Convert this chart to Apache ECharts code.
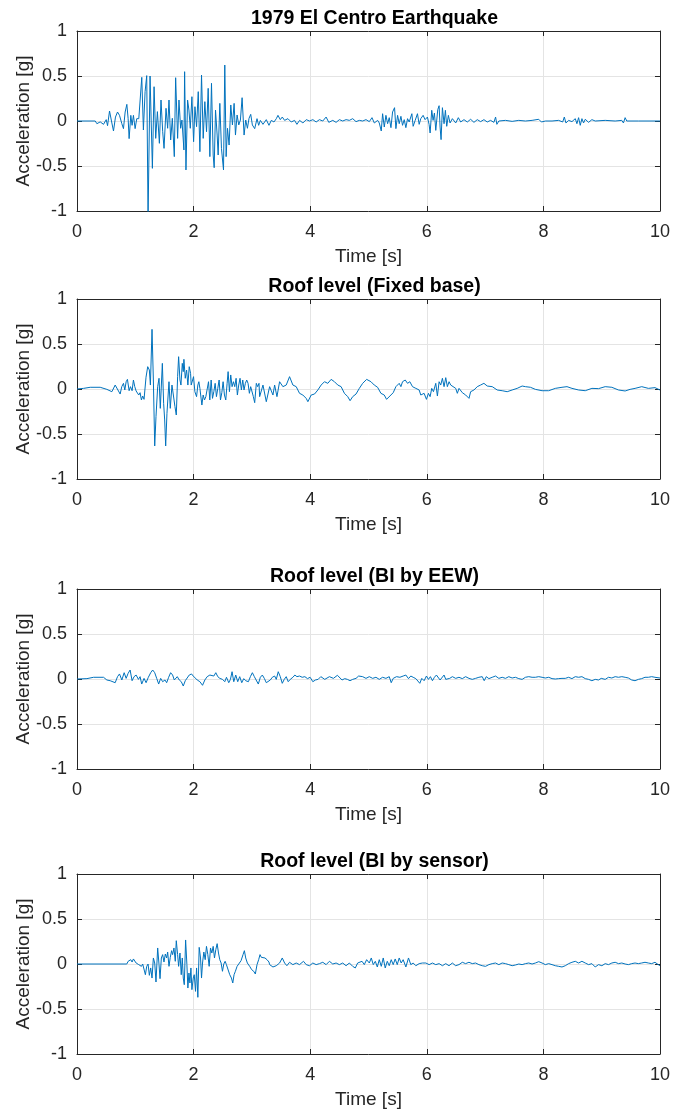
<!DOCTYPE html>
<html>
<head>
<meta charset="utf-8">
<script src="https://cdn.jsdelivr.net/npm/echarts@6/dist/echarts.min.js"></script>
<style>
html, body { margin: 0; padding: 0; background: #fff; }
#main { width: 673px; height: 1113px; }
</style>
</head>
<body>
<div id="main"></div>
<script>
// panel titles
var titles = ['1979 El Centro Earthquake', 'Roof level (Fixed base)', 'Roof level (BI by EEW)', 'Roof level (BI by sensor)'];
var xName = 'Time [s]';
var yName = 'Acceleration [g]';
var xTicks = [0, 10, 2];      // min, max, step
var yTicks = [-1, 1, 0.5];

// [time s, acceleration g]
var elCentro = [
  [0,0],[0.313,0],[0.341,-0.03],[0.398,-0.01],[0.455,-0.037],[0.501,0.015],[0.524,-0.052],[0.558,0.111],[0.598,-0.022],[0.626,-0.111],
  [0.66,0.044],[0.695,0.1],[0.729,0.063],[0.769,-0.03],[0.797,-0.085],[0.826,0.1],[0.855,0.185],[0.877,0.026],[0.894,-0.196],[0.923,0.063],
  [0.945,-0.048],[0.968,0.063],[0.997,-0.085],[1.025,0.026],[1.06,0.026],[1.111,0.485],[1.139,-0.1],[1.168,0.326],[1.196,0.504],[1.219,-1.08],
  [1.253,0.5],[1.293,-0.526],[1.322,0.381],[1.35,-0.193],[1.379,0.104],[1.413,-0.248],[1.441,0.233],[1.47,-0.119],[1.493,-0.304],[1.527,0.141],
  [1.555,-0.081],[1.578,0.233],[1.607,-0.211],[1.635,0.03],[1.669,-0.396],[1.692,0.481],[1.726,-0.193],[1.749,0.233],[1.778,-0.081],[1.8,0.011],
  [1.834,-0.322],[1.846,0.548],[1.869,-0.544],[1.897,0.233],[1.92,0.122],[1.943,-0.081],[1.971,0.27],[2.0,-0.23],[2.023,0.159],[2.051,-0.063],
  [2.08,0.326],[2.108,-0.341],[2.136,0.511],[2.165,-0.193],[2.193,0.215],[2.222,-0.119],[2.25,0.363],[2.279,-0.396],[2.307,0.419],[2.336,-0.378],
  [2.353,-0.519],[2.376,0.122],[2.404,-0.156],[2.421,-0.378],[2.45,0.196],[2.478,-0.304],[2.513,-0.544],[2.535,0.622],[2.558,-0.396],[2.581,-0.081],
  [2.609,-0.267],[2.638,0.178],[2.666,-0.044],[2.695,0.196],[2.718,-0.156],[2.746,0.067],[2.775,-0.044],[2.803,0.011],[2.832,0.259],[2.866,-0.156],
  [2.894,0.011],[2.923,-0.081],[2.951,0.03],[2.98,0.074],[3.008,-0.044],[3.048,-0.085],[3.088,0.026],[3.116,-0.048],[3.145,0.007],[3.19,-0.037],
  [3.247,0.015],[3.293,-0.048],[3.333,0.007],[3.379,-0.011],[3.419,0.026],[3.447,0.063],[3.487,0.015],[3.521,0.044],[3.561,0.007],[3.618,0.026],
  [3.675,-0.011],[3.732,0.007],[3.772,-0.037],[3.818,0.007],[3.875,-0.022],[3.932,0.015],[3.989,0],[4.046,0.015],[4.102,-0.011],[4.159,0.015],
  [4.216,0],[4.273,0.044],[4.319,-0.015],[4.387,0.007],[4.444,-0.015],[4.501,0.015],[4.558,0],[4.615,0.015],[4.672,0.007],[4.729,0.026],
  [4.786,-0.007],[4.843,0.007],[4.9,0],[4.957,0.015],[5.014,-0.007],[5.06,0.037],[5.1,-0.022],[5.157,0.007],[5.185,-0.022],[5.219,-0.111],
  [5.242,0.081],[5.271,-0.067],[5.299,0.063],[5.328,-0.03],[5.356,0.037],[5.385,-0.074],[5.413,0.1],[5.447,0.148],[5.47,-0.085],[5.499,0.063],
  [5.527,-0.03],[5.556,0.052],[5.584,-0.048],[5.613,0.015],[5.641,-0.074],[5.67,0.026],[5.698,-0.011],[5.744,0.081],[5.766,-0.059],[5.801,0.007],
  [5.84,0.081],[5.869,-0.037],[5.897,0.026],[5.937,0.063],[5.971,0.015],[6.011,0.044],[6.039,-0.037],[6.057,-0.133],[6.085,0.119],[6.108,0.007],
  [6.131,0.089],[6.154,-0.104],[6.188,0.126],[6.211,0.17],[6.228,-0.067],[6.245,-0.207],[6.268,0.148],[6.296,-0.03],[6.319,0.119],[6.342,-0.059],
  [6.37,0.063],[6.399,-0.022],[6.439,0.026],[6.496,-0.022],[6.541,0.037],[6.581,-0.011],[6.638,0.015],[6.695,-0.011],[6.752,0.019],[6.809,-0.015],
  [6.866,0.015],[6.923,-0.007],[6.98,0.015],[7.037,-0.011],[7.094,0.007],[7.151,-0.015],[7.18,0.044],[7.202,-0.037],[7.236,0],[7.35,0.007],
  [7.464,-0.004],[7.578,0.007],[7.692,0],[7.806,0.007],[7.92,0.019],[7.966,-0.011],[8.034,0],[8.148,0],[8.262,0.007],[8.331,-0.011],
  [8.359,0.044],[8.387,-0.022],[8.433,0.007],[8.49,-0.007],[8.547,0.026],[8.575,-0.03],[8.604,0.037],[8.632,-0.048],[8.661,0.026],[8.689,-0.022],
  [8.718,0.019],[8.775,-0.015],[8.832,0.015],[8.889,0],[9.06,0.007],[9.231,0],[9.345,0.007],[9.373,-0.022],[9.402,0.037],[9.43,0],
  [9.63,0],[10,0]
];

var fixedBase = [
  [0,0],[0.113,0.007],[0.227,0.019],[0.398,0.019],[0.512,-0.004],[0.598,-0.03],[0.626,-0.048],[0.655,0.044],[0.683,0.056],[0.74,-0.056],
  [0.768,0.026],[0.797,0.063],[0.82,-0.011],[0.843,0.081],[0.865,0.107],[0.894,-0.019],[0.917,0.026],[0.945,-0.019],[0.968,0.1],[0.991,0.026],
  [1.014,-0.022],[1.036,-0.011],[1.059,-0.067],[1.082,-0.041],[1.105,-0.122],[1.127,-0.078],[1.15,-0.115],[1.184,0.131],[1.213,0.248],[1.241,0.211],
  [1.259,0.044],[1.287,0.663],[1.31,0.1],[1.333,-0.633],[1.355,-0.307],[1.384,0.026],[1.407,0.119],[1.429,-0.215],[1.464,0.285],[1.486,-0.159],
  [1.504,-0.344],[1.521,-0.633],[1.543,-0.27],[1.578,0.081],[1.6,-0.215],[1.629,0.044],[1.652,0.026],[1.68,-0.196],[1.703,-0.289],[1.726,0.137],
  [1.743,0.359],[1.766,0.1],[1.783,0.044],[1.806,0.285],[1.823,0.193],[1.834,0.33],[1.857,0.119],[1.88,0.211],[1.902,0.044],[1.925,0.248],
  [1.948,0.174],[1.959,0.044],[1.982,0.026],[1.999,0.137],[2.022,-0.03],[2.051,-0.085],[2.073,0.044],[2.09,0.081],[2.108,0.007],[2.125,0.026],
  [2.142,-0.178],[2.164,-0.067],[2.187,-0.122],[2.21,-0.085],[2.233,-0.067],[2.256,0.081],[2.278,-0.122],[2.301,0.1],[2.324,-0.104],[2.347,-0.03],
  [2.37,0.063],[2.392,-0.085],[2.415,0.007],[2.438,0.1],[2.461,-0.122],[2.484,-0.041],[2.506,0.081],[2.529,-0.067],[2.552,-0.122],[2.575,0.063],
  [2.592,0.193],[2.615,-0.03],[2.637,0.156],[2.66,0.026],[2.683,0.081],[2.706,0.026],[2.729,0.119],[2.751,-0.067],[2.774,0.044],[2.797,0.119],
  [2.82,-0.011],[2.843,0.1],[2.865,-0.011],[2.888,0.063],[2.911,0.1],[2.934,0.063],[2.957,-0.048],[2.979,0.026],[3.002,0.044],[3.025,-0.085],
  [3.048,-0.152],[3.076,0.063],[3.099,0.026],[3.122,0.063],[3.133,-0.085],[3.19,0.044],[3.247,-0.141],[3.304,0.026],[3.361,-0.067],[3.39,0.044],
  [3.43,-0.085],[3.475,0.081],[3.532,0.026],[3.589,0.044],[3.646,0.137],[3.703,0.044],[3.76,0.026],[3.817,-0.048],[3.874,-0.067],[3.931,-0.104],
  [3.96,-0.141],[4.017,-0.067],[4.074,-0.056],[4.131,-0.011],[4.188,0.044],[4.245,0.081],[4.302,0.063],[4.359,0.107],[4.416,0.081],[4.473,0.044],
  [4.53,0.026],[4.587,-0.048],[4.644,-0.085],[4.684,-0.13],[4.729,-0.085],[4.786,-0.056],[4.843,0.007],[4.9,0.063],[4.968,0.107],[5.042,0.081],
  [5.099,0.044],[5.156,0.019],[5.213,-0.048],[5.27,-0.067],[5.31,-0.115],[5.367,-0.078],[5.424,-0.041],[5.47,0.026],[5.527,0.063],[5.556,0.026],
  [5.584,0.081],[5.63,0.1],[5.67,0.063],[5.709,0.081],[5.755,0.026],[5.812,0.007],[5.869,-0.011],[5.897,-0.067],[5.954,-0.048],[5.994,-0.115],
  [6.028,-0.048],[6.057,-0.085],[6.085,0.007],[6.114,-0.03],[6.154,0.063],[6.182,-0.078],[6.211,0.081],[6.239,0.044],[6.268,0.119],[6.296,0.026],
  [6.325,0.126],[6.353,0.026],[6.382,0.081],[6.41,0.044],[6.439,0.063],[6.496,0.007],[6.524,-0.048],[6.553,0.007],[6.61,-0.041],[6.667,-0.067],
  [6.724,-0.104],[6.752,-0.03],[6.809,-0.011],[6.866,0.026],[6.923,0.044],[6.98,0.063],[7.037,0.033],[7.123,0.026],[7.208,-0.011],[7.293,-0.019],
  [7.379,-0.03],[7.464,-0.011],[7.55,0.007],[7.636,0.033],[7.692,0.026],[7.778,0.019],[7.863,-0.004],[7.977,-0.019],[8.091,-0.019],[8.205,0.007],
  [8.319,0.019],[8.405,0.026],[8.49,0.007],[8.604,-0.011],[8.718,-0.019],[8.832,0.007],[8.946,0.004],[9.06,0.026],[9.174,0.019],[9.288,-0.011],
  [9.402,-0.022],[9.487,-0.004],[9.573,0.007],[9.687,0.026],[9.801,0.007],[9.915,0.015],[10,-0.011]
];

var biEEW = [
  [0,0],[0.17,0.004],[0.284,0.019],[0.455,0.019],[0.512,-0.011],[0.569,-0.019],[0.655,-0.041],[0.695,0.026],[0.729,0.056],[0.769,-0.011],
  [0.809,0.07],[0.843,0.007],[0.877,0.063],[0.911,0.1],[0.945,-0.019],[0.979,0.026],[1.014,0.044],[1.054,-0.004],[1.082,0.026],[1.11,-0.056],
  [1.15,0.007],[1.185,-0.041],[1.224,0.019],[1.264,0.07],[1.298,0.1],[1.333,0.07],[1.367,0.007],[1.401,-0.056],[1.435,0.007],[1.469,-0.03],
  [1.509,-0.011],[1.538,-0.041],[1.572,0.019],[1.606,0.07],[1.64,0.044],[1.669,-0.011],[1.697,-0.03],[1.72,0.026],[1.754,-0.011],[1.789,-0.03],
  [1.823,-0.078],[1.857,-0.019],[1.891,-0.03],[1.925,0.044],[1.965,0.056],[1.994,0.033],[2.028,0.044],[2.062,-0.011],[2.108,-0.03],[2.153,-0.07],
  [2.193,-0.011],[2.233,0.026],[2.279,0.044],[2.313,0.063],[2.347,0.033],[2.381,0.07],[2.415,0.026],[2.45,0.007],[2.495,-0.004],[2.535,-0.03],
  [2.564,0.019],[2.603,-0.041],[2.632,-0.004],[2.66,0.081],[2.689,-0.03],[2.723,0.044],[2.757,-0.03],[2.791,0.026],[2.826,-0.041],[2.86,0.004],
  [2.894,-0.019],[2.94,-0.03],[2.974,0.026],[3.008,0.07],[3.042,0.026],[3.076,0.007],[3.11,-0.056],[3.145,0.019],[3.179,0.044],[3.213,0.007],
  [3.247,-0.041],[3.281,-0.019],[3.316,-0.011],[3.35,0.019],[3.39,0.033],[3.418,-0.004],[3.452,0.081],[3.487,0.026],[3.521,-0.048],[3.555,-0.004],
  [3.589,0.026],[3.623,-0.03],[3.658,-0.004],[3.703,0.019],[3.737,0.044],[3.772,0.026],[3.817,0.033],[3.863,0.019],[3.908,0.026],[3.954,0.004],
  [3.999,0.019],[4.045,-0.03],[4.09,-0.011],[4.136,-0.004],[4.182,0.026],[4.216,0.044],[4.25,-0.004],[4.284,-0.019],[4.33,0.026],[4.364,0.044],
  [4.398,0.007],[4.432,-0.004],[4.467,0.041],[4.501,0.019],[4.546,-0.011],[4.592,0.004],[4.638,-0.004],[4.683,-0.019],[4.729,-0.004],[4.786,0.007],
  [4.831,0.033],[4.9,0.026],[4.957,0.007],[5.014,0.026],[5.071,0.007],[5.128,0.019],[5.185,-0.004],[5.242,0.019],[5.299,0.007],[5.356,0.026],
  [5.39,-0.041],[5.424,0.007],[5.481,0.026],[5.538,0.019],[5.595,0.033],[5.641,0.044],[5.686,0.004],[5.726,0.033],[5.766,0.019],[5.812,0.004],
  [5.846,0.019],[5.88,-0.048],[5.914,0.007],[5.954,-0.019],[5.994,0.033],[6.028,-0.004],[6.062,0.026],[6.097,-0.019],[6.131,0.019],[6.165,0.044],
  [6.199,0.063],[6.228,-0.011],[6.256,-0.004],[6.296,0.044],[6.325,-0.004],[6.359,-0.019],[6.393,0.007],[6.439,0.026],[6.496,0.007],[6.552,0.019],
  [6.609,0.004],[6.666,0.026],[6.723,0.007],[6.78,-0.004],[6.837,0.007],[6.894,0.019],[6.951,0.026],[6.985,-0.019],[7.02,0.026],[7.065,0.004],
  [7.122,0.019],[7.179,0.033],[7.236,0.007],[7.293,0.019],[7.35,0.007],[7.407,0.026],[7.464,0.011],[7.521,0.019],[7.578,0.004],[7.635,-0.004],
  [7.692,0.019],[7.749,0.026],[7.806,0.019],[7.863,0.019],[7.92,0.026],[7.977,0.019],[8.034,0.011],[8.091,0.019],[8.148,0.004],[8.205,0],
  [8.262,0.004],[8.319,0.007],[8.376,0.007],[8.433,0.019],[8.49,0.004],[8.547,0.026],[8.604,0.019],[8.661,0.026],[8.718,0.004],[8.775,-0.004],
  [8.832,-0.019],[8.889,-0.004],[8.946,-0.011],[8.992,0.007],[9.06,-0.004],[9.117,0.019],[9.174,0.011],[9.231,0.026],[9.288,0.019],[9.345,0.026],
  [9.402,0.019],[9.458,0.011],[9.515,-0.011],[9.572,-0.019],[9.63,-0.004],[9.686,0.004],[9.743,0.019],[9.8,0.019],[9.857,0.026],[9.914,0.019],
  [10,0.011]
];

var biSensor = [
  [0,0],[0.854,0],[0.877,0.03],[0.9,0.022],[0.922,0.048],[0.945,0.022],[0.968,0.056],[0.991,0.074],[1.014,0.011],[1.036,0.022],
  [1.059,-0.007],[1.082,0.011],[1.105,-0.026],[1.127,0],[1.15,-0.015],[1.173,-0.119],[1.196,-0.026],[1.219,0],[1.241,-0.126],[1.264,-0.044],
  [1.287,-0.156],[1.31,0.067],[1.333,0.011],[1.355,-0.2],[1.384,0.178],[1.407,-0.007],[1.424,-0.163],[1.447,0.067],[1.469,0.104],[1.492,0.022],
  [1.515,0.111],[1.538,0.067],[1.555,0.133],[1.578,-0.026],[1.6,0.074],[1.623,0.148],[1.64,0.104],[1.663,0.178],[1.686,0.03],[1.703,0.259],
  [1.726,0.104],[1.743,-0.026],[1.766,0.122],[1.788,-0.119],[1.806,0.067],[1.823,-0.156],[1.84,-0.23],[1.863,0.267],[1.885,-0.007],[1.902,-0.267],
  [1.92,-0.1],[1.937,-0.211],[1.954,-0.044],[1.971,-0.285],[1.994,-0.156],[2.011,-0.119],[2.033,-0.304],[2.051,-0.044],[2.073,-0.37],[2.096,0.185],
  [2.119,0.067],[2.136,-0.156],[2.153,0.011],[2.176,0.133],[2.199,0.048],[2.221,0.196],[2.244,0.104],[2.267,-0.026],[2.29,0.178],[2.313,0.122],
  [2.336,0.196],[2.358,0.067],[2.381,0.159],[2.404,0.226],[2.427,0.122],[2.449,0.048],[2.472,0.011],[2.495,-0.081],[2.518,0],[2.541,0.03],
  [2.563,-0.007],[2.592,-0.007],[2.62,-0.119],[2.649,-0.156],[2.672,-0.211],[2.694,-0.119],[2.717,-0.081],[2.746,-0.026],[2.78,-0.007],[2.814,0.037],
  [2.848,0.104],[2.871,0.148],[2.894,0.067],[2.922,0.011],[2.962,-0.026],[2.996,-0.063],[3.031,-0.081],[3.059,-0.111],[3.088,-0.007],[3.116,0.048],
  [3.139,0.104],[3.162,0.074],[3.19,0.096],[3.224,0.067],[3.259,0.048],[3.293,0.022],[3.304,-0.007],[3.361,-0.033],[3.418,-0.019],[3.475,0.011],
  [3.521,0.067],[3.561,0.011],[3.6,-0.019],[3.646,0.019],[3.703,-0.007],[3.76,0.011],[3.817,-0.007],[3.885,0.03],[3.931,-0.007],[3.988,-0.019],
  [4.045,0.011],[4.102,-0.007],[4.159,0.004],[4.216,0.019],[4.273,-0.007],[4.33,0.03],[4.387,0],[4.444,0.011],[4.501,-0.007],[4.558,0.011],
  [4.615,-0.019],[4.672,0.011],[4.729,-0.026],[4.774,-0.044],[4.814,0.011],[4.889,0.03],[4.928,-0.007],[4.968,0.048],[5.014,0.011],[5.048,0.067],
  [5.082,-0.007],[5.117,0.03],[5.151,-0.033],[5.185,0.048],[5.219,-0.026],[5.253,0.067],[5.287,-0.044],[5.322,0.03],[5.356,-0.019],[5.39,0.048],
  [5.424,-0.007],[5.458,0.056],[5.493,-0.007],[5.527,0.067],[5.561,0.011],[5.595,0.048],[5.641,-0.033],[5.686,0.067],[5.726,-0.007],[5.766,0.011],
  [5.812,-0.019],[5.869,0.004],[5.926,0.011],[5.983,0.011],[6.04,-0.007],[6.097,0.011],[6.154,-0.007],[6.211,0.004],[6.268,-0.019],[6.325,0.004],
  [6.381,-0.019],[6.438,0.011],[6.495,-0.019],[6.552,-0.007],[6.609,0.019],[6.666,0.004],[6.723,0.019],[6.78,0.004],[6.837,0.011],[6.894,-0.007],
  [6.951,-0.019],[7.008,-0.026],[7.065,-0.007],[7.122,0.004],[7.179,0.011],[7.236,-0.007],[7.293,0.011],[7.35,0.004],[7.407,-0.007],[7.464,-0.019],
  [7.521,-0.011],[7.578,0],[7.635,-0.007],[7.692,0.004],[7.749,0.011],[7.806,0],[7.863,0.011],[7.92,0.026],[7.977,0.011],[8.034,-0.007],
  [8.091,0.004],[8.148,-0.007],[8.205,-0.019],[8.262,-0.026],[8.319,-0.033],[8.376,-0.019],[8.433,0.004],[8.49,0.019],[8.547,0.03],[8.604,0.011],
  [8.661,0.03],[8.718,0.011],[8.775,-0.007],[8.832,0.004],[8.889,-0.033],[8.946,-0.007],[9.003,-0.019],[9.06,0.004],[9.117,-0.007],[9.174,0.011],
  [9.231,0.019],[9.288,0.004],[9.345,0.011],[9.402,0],[9.458,-0.007],[9.515,0.004],[9.572,0.011],[9.629,0.004],[9.686,0.011],[9.743,0.019],
  [9.8,0.011],[9.857,0.004],[9.914,0.019],[9.971,-0.007],[10,-0.019]
];

var records = [elCentro, fixedBase, biEEW, biSensor];

var myChart = echarts.init(document.getElementById('main'));
var font = '"Liberation Sans", Arial, Helvetica, sans-serif';
var ink = '#262626';
var tops = [31, 299, 589, 874];

var grid = [], xAxis = [], yAxis = [], title = [], series = [];
for (var i = 0; i < 4; i++) {
    grid.push({ left: 77, width: 585, top: tops[i], height: 180 });
    title.push({
        text: titles[i],
        left: 369.5,
        top: tops[i] - 27,
        textAlign: 'center',
        textStyle: { fontFamily: font, fontSize: 19.5, fontWeight: 'bold', color: '#000' }
    });
    // bottom axis with labels, then a bare top axis to close the box
    xAxis.push({
        gridIndex: i, type: 'value', min: xTicks[0], max: xTicks[1], interval: xTicks[2],
        position: 'bottom',
        name: xName, nameLocation: 'middle', nameGap: 36,
        nameTextStyle: { fontFamily: font, fontSize: 19, color: ink },
        axisLine: { onZero: false, lineStyle: { color: ink, width: 1 } },
        axisTick: { inside: true, length: 5, lineStyle: { color: ink } },
        axisLabel: { fontFamily: font, fontSize: 18, color: ink, margin: 12 },
        splitLine: { show: true, lineStyle: { color: '#e4e4e4', width: 1 } }
    });
    xAxis.push({
        gridIndex: i, type: 'value', min: xTicks[0], max: xTicks[1], interval: xTicks[2],
        position: 'top',
        axisLine: { onZero: false, lineStyle: { color: ink, width: 1 } },
        axisTick: { inside: true, length: 5, lineStyle: { color: ink } },
        axisLabel: { show: false },
        splitLine: { show: false }
    });
    yAxis.push({
        gridIndex: i, type: 'value', min: yTicks[0], max: yTicks[1], interval: yTicks[2],
        position: 'left',
        name: yName, nameLocation: 'middle', nameGap: 44,
        nameMoveOverlap: false,
        nameTextStyle: { fontFamily: font, fontSize: 19, color: ink },
        axisLine: { show: true, onZero: false, lineStyle: { color: ink, width: 1 } },
        axisTick: { show: true, inside: true, length: 5, lineStyle: { color: ink } },
        axisLabel: { fontFamily: font, fontSize: 18, color: ink, margin: 10 },
        splitLine: { show: true, lineStyle: { color: '#e4e4e4', width: 1 } }
    });
    yAxis.push({
        gridIndex: i, type: 'value', min: yTicks[0], max: yTicks[1], interval: yTicks[2],
        position: 'right',
        axisLine: { show: true, onZero: false, lineStyle: { color: ink, width: 1 } },
        axisTick: { show: true, inside: true, length: 5, lineStyle: { color: ink } },
        axisLabel: { show: false },
        splitLine: { show: false }
    });
    series.push({
        type: 'line',
        xAxisIndex: 2 * i,
        yAxisIndex: 2 * i,
        data: records[i],
        showSymbol: false,
        symbol: 'none',
        clip: true,
        lineStyle: { color: '#0072bd', width: 1 },
        z: 1
    });
}

option = {
    backgroundColor: '#fff',
    animation: false,
    title: title,
    grid: grid,
    xAxis: xAxis,
    yAxis: yAxis,
    series: series
};

myChart.setOption(option);
</script>
</body>
</html>
